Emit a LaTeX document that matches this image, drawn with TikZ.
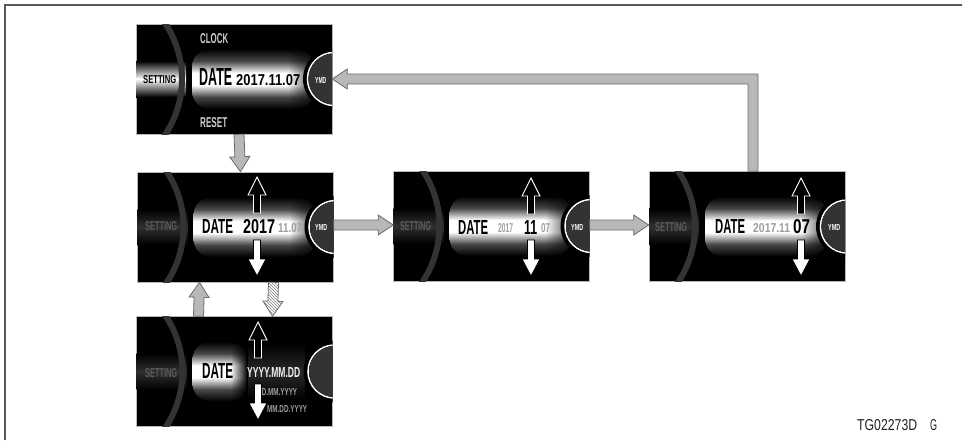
\documentclass[tikz,border=0pt]{standalone}
\usepackage{fontspec}
\setmainfont{Liberation Sans}
\usepackage{graphicx}
\usetikzlibrary{calc,patterns,fadings}
\pgfdeclareverticalshading{barsh}{100bp}{color(0bp)=(black); color(25bp)=(black); color(35bp)=(gray!55!black); color(45bp)=(white); color(55bp)=(white); color(65bp)=(gray!55!black); color(75bp)=(black); color(100bp)=(black)}
\tikzfading[name=fadeR, left color=transparent!100, right color=transparent!0]
\definecolor{arrfill}{gray}{0.72}
\definecolor{arredge}{gray}{0.42}
\definecolor{dimtxt}{gray}{0.36}
\definecolor{lighttxt}{gray}{0.80}
\definecolor{greytxt}{gray}{0.62}
\definecolor{frameln}{gray}{0.35}
\tikzset{
 screen/.style={draw=gray!55, line width=0.6pt, fill=black, minimum width=196pt, minimum height=110pt, inner sep=0pt},
 lbl/.style={inner sep=0pt, anchor=base west, font=\bfseries},
 foot/.style={inner sep=0pt, anchor=base west, font=\normalfont, text=gray!25!black},
 arrowbase/.style={draw=arredge, line width=0.8pt, line join=miter},
 bigarrow/.style={arrowbase, fill=arrfill},
 hatched/.style={arrowbase, fill=white, postaction={pattern=north west lines, pattern color=gray}},
 uparr/.style={fill=black, draw=white, line width=0.9pt},
 dnarr/.style={fill=white, draw=black, line width=0.8pt},
}
\newcommand\sz[3]{\resizebox{#1pt}{#2pt}{#3}}
% #1 node, #2 setting bar colour, #3 bar right end, #4 fade width, #5 underlay, #6 fade opacity
\newcommand\screenart[6]{%
\begin{scope}[shift={(#1.center)}]
 \clip (-98,-55) rectangle (98,55);
 \shade[top color=black,bottom color=black,middle color=#2] (-98,-18) rectangle (-48,18);
 \draw[line width=6pt, gray!40!black] (-152,0) circle (100pt);
 #5
 \shade[shading=barsh, rounded corners=18pt] (#3,-30) -- (-42,-30) -- (-42,30) -- (#3,30) -- cycle;
 \fill[black, fill opacity=#6, path fading=fadeR] ({#3-#4},-31) rectangle ({#3+1},31);
 \fill[black] (100,0) circle (31pt);
 \draw[white, line width=1.5pt] (100,0) circle (26.5pt);
 \fill[gray!40!black] (100,0) circle (25.5pt);
\end{scope}}
\newcommand\scrUp[2]{\filldraw[uparr] (#1,#2) -- ++(9,18) -- ++(-5.5,0) -- ++(0,18) -- ++(-7,0) -- ++(0,-18) -- ++(-5.5,0) -- cycle;}
\newcommand\scrDn[2]{\filldraw[dnarr] ({#1-3.5},#2) -- ++(7,0) -- ++(0,19) -- ++(5.5,0) -- ++(-9,17) -- ++(-9,-17) -- ++(5.5,0) -- cycle;}
% fat connector from #2 to #3
\newcommand\fatarrow[3][bigarrow]{%
 \path ($(#3)!15pt!(#2)$) coordinate (fa-m);
 \draw[#1] ($(#2)!5pt!90:(#3)$) -- ($(fa-m)!5pt!-90:(#2)$) -- ($(fa-m)!10pt!-90:(#2)$) -- (#3) -- ($(fa-m)!10pt!90:(#2)$) -- ($(fa-m)!5pt!90:(#2)$) -- ($(#2)!5pt!-90:(#3)$) -- cycle;}
\begin{document}
\begin{tikzpicture}[x=1pt,y=-1pt]
\useasboundingbox (0,0) rectangle (962,440);
\draw[frameln, line width=1.2pt] (5,440) -- (5,5) -- (962,5);

% screens
\node[screen] (A) at (234,79) {};
\node[screen] (B) at (235.5,227) {};
\node[screen] (C) at (234.5,371.5) {};
\node[screen] (D) at (491.5,226) {};
\node[screen] (E) at (747,226.5) {};

\screenart{A}{white}{80}{26}{}{0.75}
\screenart{B}{gray!38!black}{80}{26}{}{0.75}
\screenart{D}{gray!38!black}{80}{26}{}{0.75}
\screenart{E}{gray!38!black}{80}{26}{}{0.75}
\screenart{C}{gray!38!black}{12}{16}{\shade[top color=black,bottom color=black,middle color=gray!32!black] (0,-28) rectangle (70,28);}{1}

% texts screen A
\node[lbl, text=black] (a1) at (143,83) {\sz{33}{8}{SETTING}};
\node[lbl, text=lighttxt] (a2) at (200,43) {\sz{28}{10}{CLOCK}};
\node[lbl, text=black] (a3) at (199,85) {\sz{33}{17}{DATE}};
\node[lbl, text=black] (a4) at (236,85) {\sz{64}{11}{2017.11.07}};
\node[lbl, text=white] (a5) at (315,83) {\sz{11}{6}{YMD}};
\node[lbl, text=lighttxt] (a6) at (200,127) {\sz{27}{10}{RESET}};

% texts screen B
\node[lbl, text=dimtxt] (b1) at (145,230) {\sz{32}{9}{SETTING}};
\node[lbl, text=black] (b2) at (202,233) {\sz{31}{14}{DATE}};
\node[lbl, text=black] (b3) at (243,233) {\sz{32}{14}{2017}};
\node[lbl, text=greytxt] (b4) at (278,232) {\sz{24}{9}{11.07}};
\node[lbl, text=white] (b5) at (315,230) {\sz{12}{6}{YMD}};

% texts screen D
\node[lbl, text=dimtxt] (d1) at (400,230) {\sz{31}{9}{SETTING}};
\node[lbl, text=black] (d2) at (458,234) {\sz{30}{14}{DATE}};
\node[lbl, text=greytxt] (d3) at (498,232) {\sz{15}{9}{2017}};
\node[lbl, text=black] (d4) at (524,234) {\sz{13}{14}{11}};
\node[lbl, text=greytxt] (d5) at (541,232) {\sz{9}{9}{07}};
\node[lbl, text=white] (d6) at (571,230) {\sz{12}{6}{YMD}};

% texts screen E
\node[lbl, text=dimtxt] (e1) at (655,231) {\sz{32}{9}{SETTING}};
\node[lbl, text=black] (e2) at (715,233) {\sz{30}{14}{DATE}};
\node[lbl, text=greytxt] (e3) at (753,232) {\sz{37}{9}{2017.11}};
\node[lbl, text=black] (e4) at (793,233) {\sz{17}{14}{07}};
\node[lbl, text=white] (e5) at (828,230) {\sz{12}{6}{YMD}};

% texts screen C
\node[lbl, text=dimtxt] (c1) at (145,377) {\sz{32}{9}{SETTING}};
\node[lbl, text=black] (c2) at (202,378) {\sz{31}{15}{DATE}};
\node[lbl, text=gray!12] (c3) at (247,377) {\sz{53}{10}{YYYY.MM.DD}};
\node[lbl, text=greytxt] (c4) at (257,395) {\sz{40}{7}{DD.MM.YYYY}};
\node[lbl, text=greytxt] (c5) at (267,412) {\sz{40}{7}{MM.DD.YYYY}};

% screen arrows
\scrUp{257}{177}
\scrDn{257}{240}
\scrUp{531}{178}
\scrDn{531}{240}
\scrUp{801}{178}
\scrDn{801}{240}
\scrUp{258}{322}
\scrDn{258}{384}

% connectors
\coordinate (ab1) at ([xshift=5pt]A.south);
\coordinate (ab2) at ([xshift=5pt]B.north);
\fatarrow{ab1}{ab2}
\coordinate (bd1) at ([yshift=2pt]B.east);
\coordinate (bd2) at (D.west |- bd1);
\fatarrow{bd1}{bd2}
\coordinate (de1) at ([yshift=1pt]D.east);
\coordinate (de2) at (E.west |- de1);
\fatarrow{de1}{de2}
\coordinate (cb1) at ([xshift=-36pt]C.north);
\coordinate (cb2) at ([xshift=-36pt]B.south);
\fatarrow{cb1}{cb2}
\coordinate (bc1) at ([xshift=38pt]B.south);
\coordinate (bc2) at ([xshift=38pt]C.north);
\fatarrow[hatched]{bc1}{bc2}
\coordinate (fbs) at ([xshift=6pt]E.north);
\coordinate (fbc) at (fbs |- A.east);
\draw[bigarrow] ($(fbs)+(-5,0)$) -- ($(fbc)+(-5,5)$) -- ($(A.east)+(15,5)$) -- ($(A.east)+(15,10)$) -- (A.east) -- ($(A.east)+(15,-10)$) -- ($(A.east)+(15,-5)$) -- ($(fbc)+(5,-5)$) -- ($(fbs)+(5,0)$) -- cycle;

% footer
\node[foot] (f1) at (857,430) {\sz{60}{11}{TG02273D}};
\node[foot] (f2) at (930,430) {\sz{7}{11}{G}};
\end{tikzpicture}
\end{document}
